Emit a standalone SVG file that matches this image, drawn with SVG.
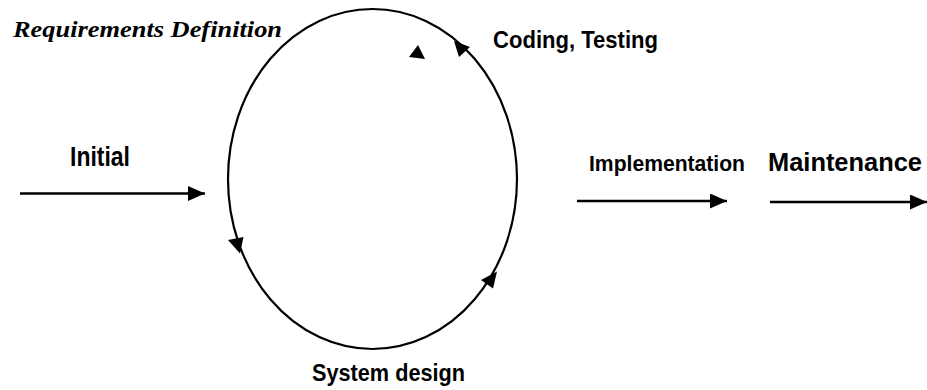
<svg xmlns="http://www.w3.org/2000/svg" width="927" height="390" viewBox="0 0 927 390">
  <style>
    .lbl { font-family: "Liberation Sans", Arial, sans-serif; font-weight: bold; fill: #000; }
    .ttl { font-family: "Liberation Serif", "Times New Roman", serif; font-weight: bold; font-style: italic; fill: #000; }
    .ln { stroke: #000; stroke-width: 2.5; fill: none; }
    .head { fill: #000; stroke: none; }
  </style>
  <defs>
    <marker id="arr" viewBox="0 0 17 15" refX="17" refY="7.5" markerWidth="17" markerHeight="15" markerUnits="userSpaceOnUse" orient="auto">
      <path d="M0,0 L17,7.5 L0,15 Z" fill="#000"/>
    </marker>
  </defs>

  <g id="cycle">
    <ellipse cx="372.5" cy="179" rx="144.5" ry="170" fill="none" stroke="#000" stroke-width="2.2"/>
  </g>

  <g id="requirements">
    <text class="ttl" x="13" y="37" font-size="23" textLength="269" lengthAdjust="spacingAndGlyphs">Requirements Definition</text>
  </g>
  <g id="coding">
    <text class="lbl" x="493" y="48" font-size="24" textLength="165" lengthAdjust="spacingAndGlyphs">Coding, Testing</text>
  </g>
  <g id="initial">
    <text class="lbl" x="70" y="166" font-size="28" textLength="60" lengthAdjust="spacingAndGlyphs">Initial</text>
  </g>
  <g id="implementation">
    <text class="lbl" x="589" y="171" font-size="22" textLength="156" lengthAdjust="spacingAndGlyphs">Implementation</text>
  </g>
  <g id="maintenance">
    <text class="lbl" x="768" y="171" font-size="26" textLength="154" lengthAdjust="spacingAndGlyphs">Maintenance</text>
  </g>
  <g id="system-design">
    <text class="lbl" x="312" y="381" font-size="24" textLength="153" lengthAdjust="spacingAndGlyphs">System design</text>
  </g>

  <g id="connectors">
    <line class="ln" x1="20" y1="193.5" x2="205" y2="193.5" marker-end="url(#arr)"/>
    <line class="ln" x1="577" y1="201" x2="727" y2="201" marker-end="url(#arr)"/>
    <line class="ln" x1="770" y1="202" x2="927" y2="202" marker-end="url(#arr)"/>
    <!-- arrowheads on the cycle -->
    <polygon class="head" points="454,41 470,47 459,57"/>
    <polygon class="head" points="240,253.5 228,240 243.5,237"/>
    <polygon class="head" points="497,271.5 481,280 493,288.5"/>
    <polygon class="head" points="418,45 425,59 409,57"/>
  </g>
</svg>
